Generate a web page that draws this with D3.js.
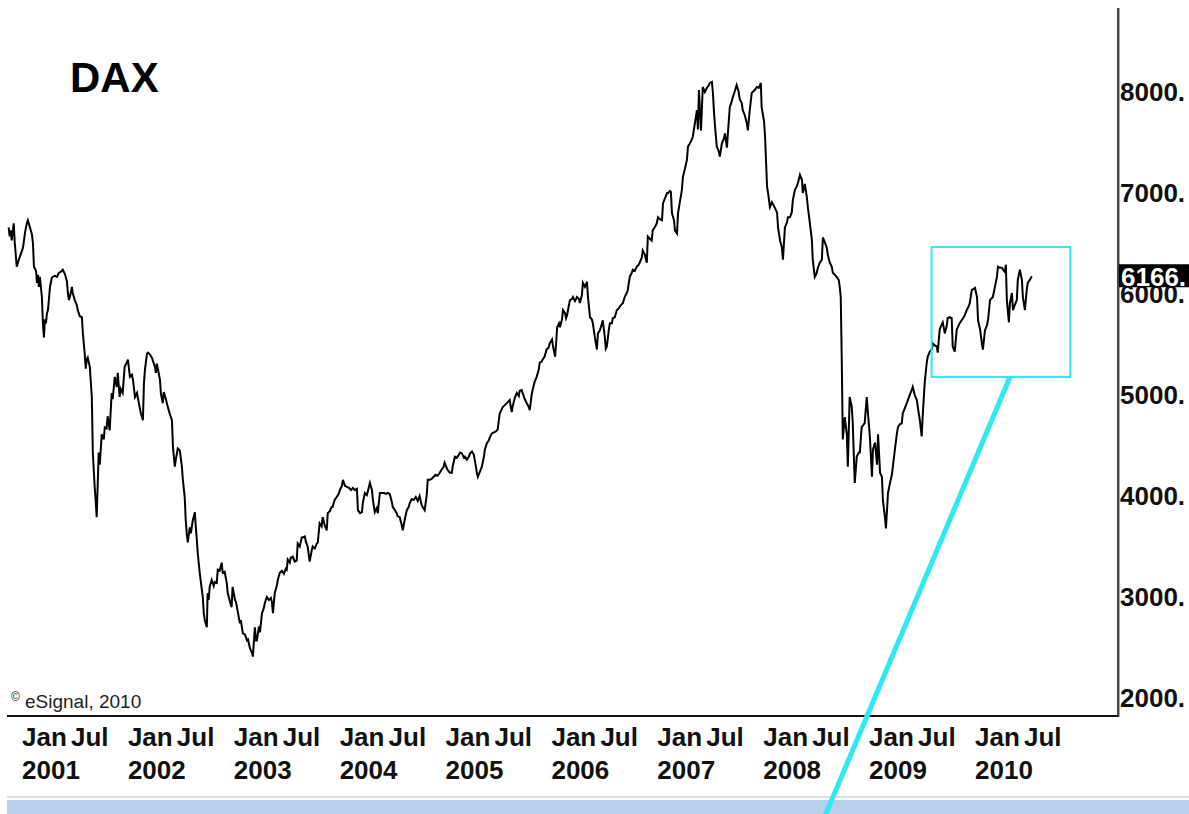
<!DOCTYPE html>
<html>
<head>
<meta charset="utf-8">
<script src="https://cdn.jsdelivr.net/npm/d3@7"></script>
<style>
  html, body { margin: 0; padding: 0; background: #fff; }
  svg { display: block; }
</style>
</head>
<body>
<svg id="chart" width="1189" height="814"></svg>
<script>
// weekly closes, [week of year, close]
const dax2000 = [[45.6,6650],[46.1,6560],[46.6,6620],[47.1,6520],[48.1,6690],[48.6,6500],[49.6,6260],[50.6,6330],[51.5,6380]];
const dax2001 = [[0.5,6450],[1.5,6600],[2.5,6700],[2.9,6720],[3.9,6650],[4.9,6580],[5.4,6490],[5.9,6260],[6.9,6220],[7.4,6100],
  [7.9,6180],[8.3,6060],[8.8,6160],[9.8,5960],[10.3,5700],[10.8,5560],[11.3,5740],[11.8,5700],[12.3,5800],[12.8,5830],
  [13.8,6060],[14.7,6150],[15.2,6160],[16.2,6170],[17.2,6160],[18.2,6200],[19.2,6210],[20.1,6230],[21.1,6190],[22.1,6120],
  [22.6,6000],[23.1,5930],[23.6,5960],[24.6,6060],[25,6000],[26,5930],[27,5880],[27.5,5830],[28.5,5770],[29.5,5760],
  [30,5600],[30.9,5400],[31.4,5250],[31.9,5340],[32.4,5360],[33.4,5270],[34.4,4970],[34.9,4420],[35.9,4050],[36.3,3950],
  [36.8,3780],[37.3,4100],[37.8,4420],[38.3,4300],[39.3,4600],[40.3,4550],[40.8,4670],[41.7,4660],[42.2,4780],[43.2,4640],
  [44.2,5010],[44.7,4950],[45.7,5170],[46.7,5070],[47.2,5210],[48.1,4970],[48.6,5050],[49.6,5010],[50.6,5270],[51.6,5310]];
const dax2002 = [[0,5340],[1,5170],[2,5190],[2.5,5140],[3.5,4970],[4.5,5010],[5.5,4900],[6.4,4810],[7.4,4740],[7.9,5100],
  [8.4,5240],[9.4,5400],[9.9,5410],[10.9,5390],[11.8,5360],[12.3,5330],[13.3,5270],[13.8,5210],[14.3,5300],[15.8,5140],
  [16.3,5000],[17.2,4910],[17.7,5020],[18.7,4950],[19.7,4870],[20.7,4800],[21.7,4740],[22.2,4480],[23.1,4280],[23.6,4350],
  [24.6,4460],[25.6,4440],[26.6,4280],[27.1,4150],[28,3980],[28.5,3750],[29,3620],[29.5,3530],[30.5,3680],[31,3620],
  [32,3750],[33,3830],[33.4,3700],[33.9,3580],[34.4,3430],[35.4,3230],[35.9,3150],[36.9,2990],[37.4,2830],[37.9,2760],
  [38.9,2690],[39.3,3030],[39.8,2960],[40.3,3090],[41.3,3160],[42.3,3100],[42.8,3140],[43.8,3130],[44.3,3260],[45.2,3250],
  [46.2,3330],[46.7,3230],[47.7,3240],[48.7,3130],[49.2,3030],[50.1,2960],[50.6,2920],[51.1,2890],[51.6,3090]];
const dax2003 = [[0.6,2960],[1.1,2940],[2.1,2830],[3,2730],[3.5,2760],[4,2690],[4.5,2630],[5.5,2620],[6.5,2560],[7,2570],
  [8,2480],[8.9,2440],[9.4,2400],[10.4,2690],[10.9,2560],[11.4,2560],[12.4,2700],[12.9,2640],[13.9,2830],[14.8,2880],
  [15.3,2930],[16.3,2990],[17.3,2960],[18.3,2980],[18.8,2940],[19.3,2830],[20.2,3030],[21.2,3100],[21.7,3160],[22.7,3230],
  [23.7,3250],[24.7,3220],[25.6,3270],[26.1,3260],[26.6,3360],[27.6,3330],[28.1,3380],[29.1,3390],[30,3340],[31,3350],
  [31.5,3520],[32.5,3490],[33.5,3580],[34,3580],[35,3590],[35.5,3540],[36.4,3490],[37.4,3340],[38.4,3450],[38.9,3490],
  [39.9,3470],[40.9,3520],[41.4,3530],[42.3,3720],[43.3,3690],[43.8,3780],[44.8,3700],[45.8,3650],[46.3,3820],[47.3,3840],
  [48.2,3880],[48.7,3880],[49.7,3950],[50.7,3980],[51.7,4010]];
const dax2004 = [[0.1,4050],[1.1,4090],[1.6,4150],[2.6,4090],[3.6,4080],[4.6,4070],[5.6,4050],[6.5,4070],[7.5,4050],[8.5,4060],
  [9,3850],[10,3820],[11,3830],[11.4,3920],[12.4,4020],[13.4,4000],[14.4,4080],[14.9,4120],[15.9,4050],[16.4,3950],
  [17.3,3830],[18.3,3870],[18.8,3820],[19.8,4020],[20.8,4020],[21.8,4020],[22.7,4010],[23.7,4020],[24.7,4010],[25.7,3930],
  [26.2,3880],[27.2,3850],[28.1,3820],[28.6,3790],[29.6,3780],[30.6,3700],[31.1,3650],[32.1,3760],[33.1,3850],[34,3880],
  [34.5,3920],[35.5,3960],[36.5,3950],[37.5,3980],[38.5,3940],[39.4,3990],[40.4,3900],[40.9,3880],[41.9,3850],[42.9,4000],
  [43.4,4150],[44.4,4150],[45.3,4160],[46.3,4180],[47.3,4200],[48.3,4190],[49.3,4220],[50.2,4250],[51.2,4280],[51.7,4320]];
const dax2005 = [[0.7,4260],[1.7,4230],[2.2,4220],[3.1,4220],[3.6,4290],[4.6,4380],[5.6,4370],[6.6,4400],[7.1,4420],[8.1,4410],
  [9,4370],[9.5,4380],[10.5,4350],[11.5,4380],[12,4410],[13,4430],[13.9,4400],[14.9,4290],[15.4,4220],[15.9,4180],
  [16.9,4230],[17.9,4280],[18.9,4380],[19.4,4450],[20.3,4510],[21.3,4540],[21.8,4570],[22.8,4610],[23.8,4620],[24.8,4630],
  [25.7,4650],[26.7,4810],[27.7,4850],[28.2,4870],[29.2,4890],[30.2,4910],[31.1,4930],[31.6,4940],[32.6,4820],[33.1,4880],
  [34.1,4960],[35.1,5010],[36.1,4980],[36.5,5030],[37.5,5040],[38,5010],[39,4950],[40,4910],[41,4870],[41.5,4840],
  [42.4,4990],[42.9,5040],[43.9,5120],[44.9,5170],[45.9,5240],[46.4,5310],[47.3,5320],[47.8,5340],[48.8,5370],[49.8,5440],
  [50.8,5460],[51.3,5500]];
const dax2006 = [[0.3,5540],[0.8,5470],[1.8,5370],[2.3,5500],[2.8,5660],[3.7,5700],[4.2,5660],[5.2,5740],[5.7,5830],[6.7,5800],
  [7.2,5750],[7.7,5780],[8.6,5880],[9.1,5930],[10.1,5940],[10.6,5960],[11.6,5920],[12.6,5960],[13.6,5940],[14,5900],
  [15,5980],[15.5,6100],[16.5,6060],[17.5,6110],[18,5960],[19,5760],[19.9,5740],[20.4,5700],[21.4,5560],[22.4,5440],
  [22.9,5600],[23.9,5630],[24.9,5700],[25.3,5730],[26.3,5560],[26.8,5450],[27.3,5470],[28.3,5640],[28.8,5700],[29.8,5700],
  [30.2,5750],[31.2,5760],[32.2,5830],[33.2,5850],[34.2,5880],[35.2,5900],[36.1,5960],[37.1,6000],[37.6,6030],[38.6,6160],
  [39.6,6200],[40.1,6230],[41.1,6220],[42,6260],[43,6280],[43.5,6300],[44.5,6350],[45,6420],[46,6380],[47,6300],
  [47.5,6560],[48.4,6540],[49.4,6520],[49.9,6620],[50.9,6650],[51.9,6690]];
const dax2007 = [[0.3,6750],[1.3,6730],[2.3,6720],[2.8,6890],[3.8,6940],[4.8,6990],[5.3,6990],[6.2,7010],[6.7,7000],[7.2,6790],
  [8.2,6720],[8.7,6620],[9.7,6590],[10.2,6790],[11.1,6900],[12.1,7020],[12.6,7150],[13.6,7230],[14.6,7320],[15.1,7450],
  [16,7480],[17,7520],[17.5,7550],[18.5,7680],[19.5,7810],[20,7620],[20.5,8010],[21.5,7610],[22.4,8040],[23.4,7990],
  [24.4,8030],[25.4,8060],[25.9,8080],[26.9,8090],[27.4,7980],[27.8,7830],[28.3,7680],[29.3,7450],[30.3,7400],[30.8,7350],
  [31.8,7480],[32.8,7530],[33.3,7580],[34.3,7440],[34.7,7560],[35.7,7840],[36.7,7900],[37.2,7940],[38.2,8000],[39.1,8060],
  [40.1,7990],[40.6,7920],[41.6,7880],[42.1,7810],[43.1,7760],[44.1,7680],[44.6,7610],[45.5,7800],[46.5,7980],[47,7990],
  [48,8010],[49,8040],[50,8030],[51,8080],[51.4,7840]];
const dax2008 = [[0.4,7700],[0.9,7550],[1.9,7050],[2.4,6990],[3.3,6850],[4.3,6900],[4.8,6880],[5.8,6840],[6.8,6800],[7.3,6650],
  [8.3,6520],[9.2,6450],[9.7,6330],[10.7,6650],[11.7,6700],[12.2,6750],[13.2,6750],[14.1,6800],[14.6,6920],[15.6,7020],
  [16.6,7060],[17.1,7090],[18.1,7170],[19.1,7120],[19.5,6990],[20.5,7080],[21.5,6950],[22,6850],[23,6690],[24,6520],
  [24.4,6330],[25.4,6160],[26.4,6200],[26.9,6250],[27.9,6300],[28.9,6330],[29.4,6550],[30.4,6500],[31.3,6450],[31.8,6380],
  [32.8,6300],[33.8,6260],[34.3,6200],[35.3,6180],[36.2,6160],[37.2,6130],[37.7,6060],[38.2,5960],[38.7,5340],[39.2,4550],
  [39.7,4660],[40.2,4770],[41.2,4600],[41.7,4280],[42.6,4970],[43.6,4880],[44.1,4720],[45.1,4120],[46.1,4380],[47.1,4420],
  [47.6,4420],[48.5,4670],[49.5,4700],[50,4710],[51,4970],[51.5,4840]];
const dax2009 = [[0.4,4570],[1.4,4180],[1.9,4450],[2.9,4520],[3.9,4300],[4.4,4600],[5.4,4220],[6.3,4180],[6.8,3950],[7.8,3780],
  [8.3,3670],[9.3,4020],[10.3,4120],[11.2,4200],[11.7,4280],[12.7,4450],[13.7,4610],[14.2,4670],[15.1,4700],[16.1,4710],
  [16.6,4810],[17.6,4860],[18.6,4910],[19.1,4940],[20,4990],[21,5040],[21.5,5070],[22.5,4990],[23.5,4940],[24,4870],
  [25,4740],[25.9,4580],[26.4,4780],[27.4,5110],[28.4,5310],[28.9,5370],[29.9,5420],[30.9,5440],[31.4,5500],[32.4,5480],
  [33.4,5470],[33.8,5410],[34.8,5640],[35.8,5690],[36.3,5710],[37.3,5600],[38.3,5680],[38.7,5750],[39.7,5760],[40.7,5750],
  [41.2,5470],[42.2,5420],[43.2,5640],[43.7,5660],[44.6,5700],[45.6,5730],[46.6,5760],[47.1,5780],[48.1,5830],[49.1,5870],
  [49.6,5900],[50.6,6030],[51.6,6040]];
const dax2010 = [[0,6050],[1,5960],[1.5,5730],[2.5,5640],[3.4,5500],[3.9,5440],[4.9,5630],[5.9,5680],[6.4,5730],[7.4,5930],
  [8.3,5950],[8.8,5960],[9.8,6060],[10.8,6160],[11.3,6260],[12.3,6250],[13.3,6250],[14.2,6220],[14.7,6210],[15.2,6280],
  [15.7,5930],[16.7,5710],[17.2,5900],[18.2,6000],[18.7,5830],[19.6,5880],[20.6,5930],[21.1,6130],[22.1,6230],[23.1,6130],
  [23.6,5960],[24.6,5830],[25.5,6030],[26,6100],[27,6130],[28,6166]];

const yearLabels = [2001, 2002, 2003, 2004, 2005, 2006, 2007, 2008, 2009, 2010];
const monthLabels = ['Jan', 'Jul'];
const yTicks = [2000, 3000, 4000, 5000, 6000, 7000, 8000];
const lastClose = 6166;
// highlighted area: [from year, to year], [low, high]
const boxYears = [2009.59, 2010.9];
const boxValues = [5168, 6455];
const calloutEnd = [2008.55, 740];

const byYear = {2000: dax2000, 2001: dax2001, 2002: dax2002, 2003: dax2003, 2004: dax2004, 2005: dax2005,
    2006: dax2006, 2007: dax2007, 2008: dax2008, 2009: dax2009, 2010: dax2010};
const series = [];
Object.keys(byYear).forEach(y => {
    byYear[y].forEach(d => series.push({t: +y + d[0] / 52.18, v: d[1]}));
});

const svg = d3.select('#chart');
const fontBold = 'bold 26px "Liberation Sans", Arial, sans-serif';

const x = d3.scaleLinear().domain([2001, 2010]).range([22, 975]);
const y = d3.scaleLinear().domain([2000, 8000]).range([697, 91]);

const plotRight = 1118, plotBottom = 716, plotTop = 8, plotLeft = 7;

// frame
svg.append('line')
    .attr('x1', plotRight + 1.5).attr('x2', plotRight + 1.5)
    .attr('y1', plotTop).attr('y2', plotBottom + 1)
    .attr('stroke', '#aaa').attr('stroke-width', 1);
svg.append('line')
    .attr('x1', plotRight).attr('x2', plotRight)
    .attr('y1', plotTop).attr('y2', plotBottom + 1)
    .attr('stroke', '#444').attr('stroke-width', 2);
svg.append('line')
    .attr('x1', plotLeft).attr('x2', plotRight)
    .attr('y1', plotBottom).attr('y2', plotBottom)
    .attr('stroke', '#111').attr('stroke-width', 2);

// y labels
svg.append('g').selectAll('text')
    .data(yTicks)
    .join('text')
    .attr('x', plotRight + 2)
    .attr('y', d => y(d) + 9.5)
    .style('font', fontBold)
    .attr('fill', '#111')
    .text(d => d + '.');

// last value marker (covers the top of the 6000 label, as in the original)
svg.append('rect')
    .attr('x', plotRight + 1)
    .attr('y', y(lastClose) - 12)
    .attr('width', 1189 - plotRight - 1)
    .attr('height', 23)
    .attr('fill', '#000');
svg.append('text')
    .attr('x', plotRight + 3)
    .attr('y', y(lastClose) + 9.5)
    .style('font', fontBold)
    .attr('fill', '#fff')
    .text(lastClose + '.');

// x labels
const xg = svg.append('g');
yearLabels.forEach(yr => {
    xg.append('text')
        .attr('x', x(yr))
        .attr('y', 746)
        .style('font', fontBold)
        .attr('fill', '#111')
        .text(monthLabels[0]);
    xg.append('text')
        .attr('x', x(yr + 0.5) - 4)
        .attr('y', 746)
        .style('font', fontBold)
        .attr('fill', '#111')
        .text(monthLabels[1]);
    xg.append('text')
        .attr('x', x(yr))
        .attr('y', 779)
        .style('font', fontBold)
        .attr('fill', '#111')
        .text(yr);
});

// price line
const line = d3.line()
    .x(d => x(d.t))
    .y(d => y(d.v));
svg.append('path')
    .datum(series)
    .attr('d', line)
    .attr('fill', 'none')
    .attr('stroke', '#000')
    .attr('stroke-width', 2);

// title + credit
svg.append('text')
    .attr('x', 70).attr('y', 92)
    .style('font', 'bold 42px "Liberation Sans", Arial, sans-serif')
    .attr('fill', '#000')
    .text('DAX');
svg.append('text')
    .attr('x', 11).attr('y', 701)
    .style('font', '12px "Liberation Sans", Arial, sans-serif')
    .attr('fill', '#222')
    .text('\u00A9');
svg.append('text')
    .attr('x', 25).attr('y', 708)
    .style('font', '19px "Liberation Sans", Arial, sans-serif')
    .attr('fill', '#222')
    .text('eSignal, 2010');

// bottom strip
svg.append('line')
    .attr('x1', plotLeft).attr('x2', 1189)
    .attr('y1', 797).attr('y2', 797)
    .attr('stroke', '#dedede').attr('stroke-width', 2);
svg.append('rect')
    .attr('x', plotLeft).attr('y', 800)
    .attr('width', 1189 - plotLeft).attr('height', 14)
    .attr('fill', '#b9d0ea');

// highlight box and callout
const cyan = '#2ee8f2';
svg.append('rect')
    .attr('x', x(boxYears[0]))
    .attr('y', y(boxValues[1]))
    .attr('width', x(boxYears[1]) - x(boxYears[0]))
    .attr('height', y(boxValues[0]) - y(boxValues[1]))
    .attr('fill', 'none')
    .attr('stroke', cyan)
    .attr('stroke-width', 2);
svg.append('line')
    .attr('x1', x(2010.33)).attr('y1', y(boxValues[0]))
    .attr('x2', x(calloutEnd[0])).attr('y2', y(calloutEnd[1]))
    .attr('stroke', cyan)
    .attr('stroke-width', 5);
</script>
</body>
</html>
